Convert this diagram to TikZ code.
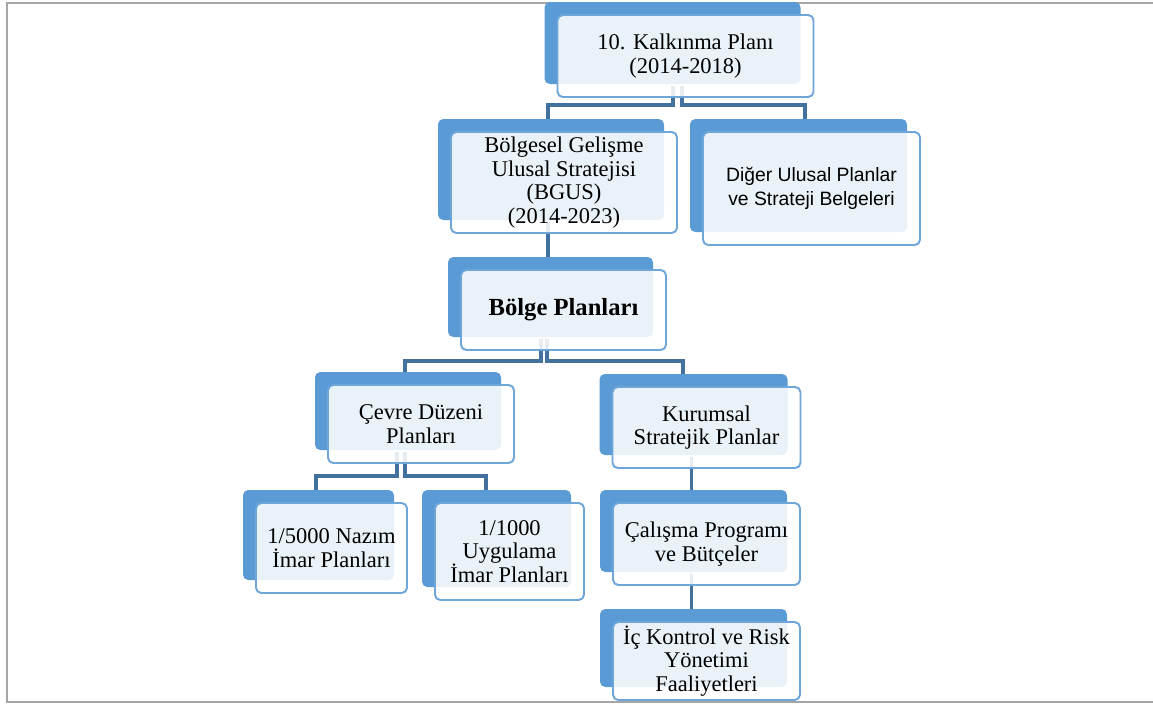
\documentclass[tikz,border=0pt]{standalone}
\usepackage{fontspec}
\setmainfont{Liberation Serif}
\newfontfamily\plansans{Liberation Sans}
\usetikzlibrary{calc,shadows,backgrounds}
\definecolor{backblue}{HTML}{5B9BD5}
\definecolor{edgeblue}{HTML}{6FA6DA}
\definecolor{linkblue}{HTML}{41719C}
\definecolor{framegray}{HTML}{A6A6A6}

\begin{document}
\begin{tikzpicture}[x=0.02cm, y=-0.02cm,
    plan/.style={draw=edgeblue, line width=1.1pt, rounded corners=3pt,
        fill=white, fill opacity=0.87, text opacity=1, align=center, inner sep=0pt,
        font=\fontsize{12.8}{13.4}\selectfont,
        general shadow={shadow xshift=-7.4pt, shadow yshift=7.4pt, fill=backblue, fill opacity=1}},
    link/.style={draw=linkblue, line width=1.9pt}]
    \newcommand\px{0.02cm}
    \newcommand\up{-12}

    \useasboundingbox (0,0) rectangle (1153,704);

    % outer frame, open on the right
    \draw[framegray, line width=1.2pt] (1153,3) -- (7,3) -- (7,702) -- (1153,702);

    \node[plan, minimum width=256*\px, minimum height=82*\px] (kalk) at (685.5,56) {10. Kalkınma Planı\\(2014-2018)};
    \node[plan, minimum width=226*\px, minimum height=101*\px] (bgus) at (564,182.5) {Bölgesel Gelişme\\Ulusal Stratejisi\\(BGUS)\\(2014-2023)};
    \node[plan, font=\plansans\fontsize{11}{13.5}\selectfont, minimum width=217*\px, minimum height=113*\px] (diger) at (811.5,188.5) {Diğer Ulusal Planlar\\ve Strateji Belgeleri};

    \node[plan, font=\bfseries\fontsize{14}{15}\selectfont, minimum width=205*\px, minimum height=80*\px] (bolge) at (563.5,310) {Bölge Planları};

    \node[plan, minimum width=186*\px, minimum height=78*\px] (cevre) at (421,424) {Çevre Düzeni\\Planları};
    \node[plan, minimum width=188*\px, minimum height=81*\px] (kurum) at (706.5,427.5) {Kurumsal\\Stratejik Planlar};

    \node[plan, minimum width=151*\px, minimum height=90*\px] (nazim) at (331.5,548) {1/5000 Nazım\\İmar Planları};
    \node[plan, minimum width=149*\px, minimum height=97*\px] (uygulama) at (509.5,551.5) {1/1000\\Uygulama\\İmar Planları};
    \node[plan, minimum width=187*\px, minimum height=82*\px] (calisma) at (706.5,544) {Çalışma Programı\\ve Bütçeler};
    \node[plan, minimum width=187*\px, minimum height=78*\px] (ickontrol) at (706.5,661) {İç Kontrol ve Risk\\Yönetimi\\Faaliyetleri};

    \begin{scope}[on background layer]
        \fill[white] (0,0) rectangle (1153,704);
        % connectors
        \draw[link] ($(kalk.south)+(-12.5,\up)$) |- ($(bgus.north)+(-16,-26)$) -- ($(bgus.north)+(-16,0)$);
        \draw[link] ($(kalk.south)+(-3.5,\up)$) |- ($(diger.north)+(-6.5,-26)$) -- ($(diger.north)+(-6.5,0)$);
        \draw[link] ($(bgus.south)+(-16,\up)$) -- ($(bolge.north)+(-15.5,0)$);
        \draw[link] ($(bolge.south)+(-22.5,\up)$) |- ($(cevre.north)+(-16,-23)$) -- ($(cevre.north)+(-16,0)$);
        \draw[link] ($(bolge.south)+(-16.5,\up)$) |- ($(kurum.north)+(-23.5,-25)$) -- ($(kurum.north)+(-23.5,0)$);
        \draw[link] ($(cevre.south)+(-24,\up)$) |- ($(nazim.north)+(-15.5,-26)$) -- ($(nazim.north)+(-15.5,0)$);
        \draw[link] ($(cevre.south)+(-16,\up)$) |- ($(uygulama.north)+(-23.5,-26)$) -- ($(uygulama.north)+(-23.5,0)$);
        \draw[link] ($(kurum.south)+(-15,\up)$) -- ($(calisma.north)+(-15,0)$);
        \draw[link] ($(calisma.south)+(-15,\up)$) -- ($(ickontrol.north)+(-15,0)$);
    \end{scope}
\end{tikzpicture}
\end{document}
